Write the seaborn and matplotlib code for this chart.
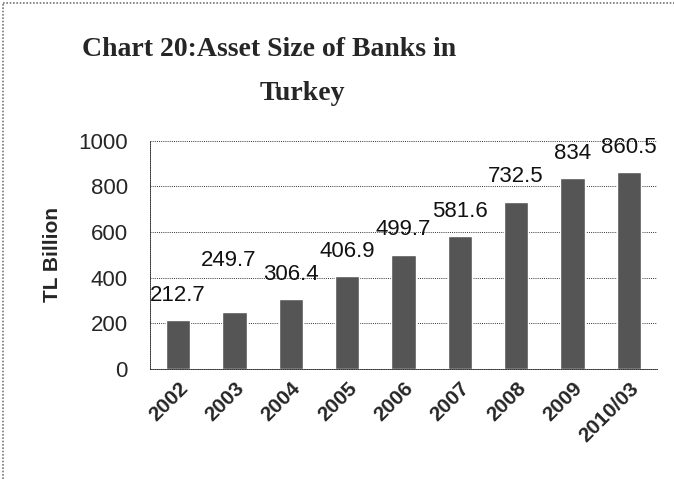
import matplotlib
matplotlib.use("Agg")
import matplotlib.pyplot as plt
import seaborn as sns
import pandas as pd

# Asset size of banks in Turkey, TL billion
years = ["2002", "2003", "2004", "2005", "2006", "2007", "2008", "2009", "2010/03"]
assets = [212.7, 249.7, 306.4, 406.9, 499.7, 581.6, 732.5, 834, 860.5]
y_ticks = [0, 200, 400, 600, 800, 1000]

df = pd.DataFrame({"year": years, "assets": assets})

sns.set_style("white")
plt.rcParams["font.family"] = ["Liberation Sans", "DejaVu Sans"]

fig = plt.figure(figsize=(6.74, 4.79), dpi=100)
ax = fig.add_axes([0.2226, 0.2296, 0.7522, 0.477])

sns.barplot(data=df, x="year", y="assets", color="#555555", width=0.43,
            saturation=1, ax=ax, zorder=3)

ax.set_ylim(0, 1000)
ax.set_xlim(-0.5, len(years) - 0.5)
ax.set_yticks(y_ticks)
ax.set_yticklabels([str(t) for t in y_ticks], fontsize=16)
ax.grid(axis="y", color="#333333", linestyle=(0, (1, 1.2)), linewidth=0.7, zorder=0)

# category labels rotated, tick marks at category boundaries
ax.set_xticks(range(len(years)))
ax.set_xticklabels(years, rotation=45, ha="right", rotation_mode="anchor",
                   fontsize=15, fontweight="bold")
ax.tick_params(axis="x", which="major", length=0, pad=7)
ax.set_xticks([i - 0.5 for i in range(len(years) + 1)], minor=True)
ax.tick_params(axis="x", which="minor", length=5, color="#333333", direction="out")
ax.tick_params(axis="y", length=5, color="#333333", direction="out", pad=11)

for side in ["top", "right"]:
    ax.spines[side].set_visible(False)
for side in ["left", "bottom"]:
    ax.spines[side].set_linestyle((0, (1, 1.2)))
    ax.spines[side].set_color("#333333")
    ax.spines[side].set_linewidth(0.7)

ax.set_xlabel("")
ax.set_ylabel("TL Billion", fontsize=15, fontweight="bold", labelpad=12)

# value labels above the bars
label_offsets = {1: (-4, 37)}
for i, v in enumerate(assets):
    dx, dy = label_offsets.get(i, (0, 18))
    ax.annotate(f"{v:g}", xy=(i, v), xytext=(dx, dy), textcoords="offset points",
                ha="center", va="center", fontsize=16, color="#111111")

# two-line title
fig.text(269 / 674, 1 - 50 / 479, "Chart 20:Asset Size of Banks in",
         ha="center", va="center", fontsize=20, fontweight="bold",
         family="Liberation Serif")
fig.text(302 / 674, 1 - 93 / 479, "Turkey",
         ha="center", va="center", fontsize=20, fontweight="bold",
         family="Liberation Serif")

# chart frame
fig.add_artist(plt.Line2D([0.005, 0.005], [0, 0.994], transform=fig.transFigure,
                          color="#777777", linewidth=1.2, linestyle=(0, (1, 1))))
fig.add_artist(plt.Line2D([0.005, 1], [0.994, 0.994], transform=fig.transFigure,
                          color="#777777", linewidth=1.2, linestyle=(0, (1, 1))))

fig.savefig("out.png", dpi=100)
